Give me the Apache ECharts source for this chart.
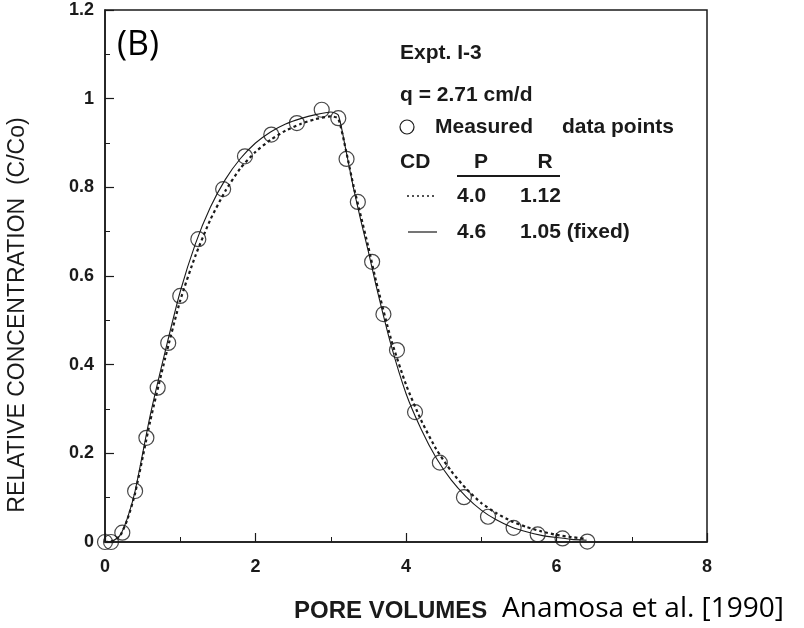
<!DOCTYPE html>
<html>
<head>
<meta charset="utf-8">
<script src="https://cdn.jsdelivr.net/npm/echarts@6/dist/echarts.min.js"></script>
<style>
  html, body { margin: 0; padding: 0; background: #fff; }
  #chart { width: 804px; height: 628px; }
</style>
</head>
<body>
<div id="chart"></div>
<script>
// measured breakthrough data (pore volumes, C/Co)
const measuredX = [0, 0.08, 0.23, 0.40, 0.55, 0.70, 0.84, 1.00, 1.24, 1.57, 1.86, 2.21, 2.55, 2.88, 3.10, 3.21, 3.36, 3.55, 3.70, 3.88, 4.12, 4.45, 4.77, 5.09, 5.43, 5.75, 6.08, 6.41]
const measuredY = [0, 0, 0.021, 0.115, 0.235, 0.348, 0.449, 0.555, 0.683, 0.796, 0.870, 0.919, 0.945, 0.975, 0.956, 0.864, 0.767, 0.632, 0.514, 0.433, 0.293, 0.179, 0.101, 0.057, 0.032, 0.017, 0.008, 0.001]

// CD model fits
const fitX = [0, 0.1, 0.2, 0.3, 0.4, 0.6, 0.8, 1.0, 1.2, 1.4, 1.6, 1.8, 2.0, 2.2, 2.4, 2.6, 2.8, 3.0, 3.1, 3.2, 3.3, 3.4, 3.5, 3.6, 3.8, 4.0, 4.2, 4.4, 4.6, 4.8, 5.0, 5.2, 5.4, 5.6, 5.8, 6.0, 6.2, 6.4]
const fitSolid = [0, 0.002, 0.015, 0.055, 0.115, 0.285, 0.43, 0.565, 0.672, 0.755, 0.818, 0.865, 0.9, 0.925, 0.943, 0.955, 0.964, 0.97, 0.963, 0.885, 0.8, 0.725, 0.655, 0.58, 0.445, 0.335, 0.255, 0.19, 0.14, 0.102, 0.072, 0.05, 0.034, 0.023, 0.015, 0.01, 0.006, 0.004]
const fitDotted = [0, 0.002, 0.014, 0.052, 0.11, 0.272, 0.415, 0.545, 0.645, 0.727, 0.792, 0.843, 0.88, 0.907, 0.928, 0.943, 0.954, 0.96, 0.955, 0.885, 0.805, 0.735, 0.665, 0.59, 0.458, 0.355, 0.275, 0.21, 0.16, 0.12, 0.088, 0.065, 0.047, 0.034, 0.024, 0.016, 0.011, 0.007]

const xTicks = [0, 2, 4, 6, 8]
const yTicks = [0, 0.2, 0.4, 0.6, 0.8, 1, 1.2]

const ink = '#1a1a1a'
const font = 'Liberation Sans, Arial, sans-serif'

const chart = echarts.init(document.getElementById('chart'), null, { renderer: 'canvas' })

const zip = (xs, ys) => xs.map((x, i) => [x, ys[i]])

const legendText = (text, x, y, extra) => ({
  type: 'text',
  x: x,
  y: y,
  style: Object.assign({
    text: text,
    fill: ink,
    font: 'bold 21px ' + font,
    verticalAlign: 'middle'
  }, extra || {})
})

const option = {
  backgroundColor: '#fff',
  animation: false,
  grid: {
    left: 105,
    right: 97,
    top: 10,
    bottom: 86,
    show: true,
    borderColor: ink,
    borderWidth: 1.5
  },
  xAxis: {
    type: 'value',
    min: xTicks[0],
    max: xTicks[xTicks.length - 1],
    interval: 2,
    axisLine: { lineStyle: { color: ink, width: 1.5 } },
    axisTick: { inside: true, length: 9, lineStyle: { color: ink, width: 1.2 } },
    minorTick: { show: true, splitNumber: 2, length: 5, lineStyle: { color: ink, width: 1 } },
    splitLine: { show: false },
    axisLabel: { color: ink, fontSize: 18, fontWeight: 'bold', fontFamily: font, margin: 16 }
  },
  yAxis: {
    type: 'value',
    min: yTicks[0],
    max: yTicks[yTicks.length - 1],
    interval: 0.2,
    axisLine: { show: true, lineStyle: { color: ink, width: 1.5 } },
    axisTick: { show: true, inside: true, length: 9, lineStyle: { color: ink, width: 1.2 } },
    minorTick: { show: true, splitNumber: 2, length: 5, lineStyle: { color: ink, width: 1 } },
    splitLine: { show: false },
    axisLabel: { color: ink, fontSize: 18, fontWeight: 'bold', fontFamily: font, margin: 11 }
  },
  series: [
    {
      name: 'CD P=4.0 R=1.12',
      type: 'line',
      data: zip(fitX, fitDotted),
      showSymbol: false,
      smooth: 0.2,
      lineStyle: { color: ink, width: 2.2, type: [3, 3] },
      z: 3
    },
    {
      name: 'CD P=4.6 R=1.05',
      type: 'line',
      data: zip(fitX, fitSolid),
      showSymbol: false,
      smooth: 0.2,
      lineStyle: { color: ink, width: 1.1 },
      z: 3
    },
    {
      name: 'Measured data points',
      type: 'scatter',
      data: zip(measuredX, measuredY),
      symbol: 'circle',
      symbolSize: 15,
      itemStyle: { color: 'rgba(0,0,0,0)', borderColor: ink, borderWidth: 1.2 },
      z: 4
    }
  ],
  graphic: [
    { type: 'text', x: 117, y: 45, style: { text: '(B)', fill: '#000', font: '34px "Open Sans", sans-serif', verticalAlign: 'middle' } },
    {
      type: 'text', x: 18, y: 315, rotation: Math.PI / 2,
      style: { text: 'RELATIVE CONCENTRATION  (C/Co)', fill: ink, font: '23px ' + font, align: 'center', verticalAlign: 'middle' }
    },
    { type: 'text', x: 294, y: 611, style: { text: 'PORE VOLUMES', fill: ink, font: 'bold 24px ' + font, verticalAlign: 'middle' } },
    { type: 'text', x: 502, y: 609, style: { text: 'Anamosa et al. [1990]', fill: '#000', font: '28px "Open Sans", sans-serif', verticalAlign: 'middle' } },
    legendText('Expt. I-3', 400, 53),
    legendText('q = 2.71 cm/d', 400, 95),
    { type: 'circle', shape: { cx: 407, cy: 127, r: 7 }, style: { fill: 'none', stroke: ink, lineWidth: 1.2 } },
    legendText('Measured', 435, 127),
    legendText('data points', 562, 127),
    legendText('CD', 400, 162),
    legendText('P', 481, 162, { align: 'center' }),
    legendText('R', 545, 162, { align: 'center' }),
    { type: 'line', shape: { x1: 457, y1: 176, x2: 560, y2: 176 }, style: { stroke: ink, lineWidth: 2 } },
    { type: 'line', shape: { x1: 407, y1: 196, x2: 437, y2: 196 }, style: { stroke: ink, lineWidth: 1.5, lineDash: [2, 3] } },
    legendText('4.0', 457, 196),
    legendText('1.12', 520, 196),
    { type: 'line', shape: { x1: 408, y1: 232, x2: 437, y2: 232 }, style: { stroke: ink, lineWidth: 1.2 } },
    legendText('4.6', 457, 232),
    legendText('1.05 (fixed)', 520, 232)
  ]
}

chart.setOption(option)
window.addEventListener('resize', () => chart.resize())
</script>
</body>
</html>
